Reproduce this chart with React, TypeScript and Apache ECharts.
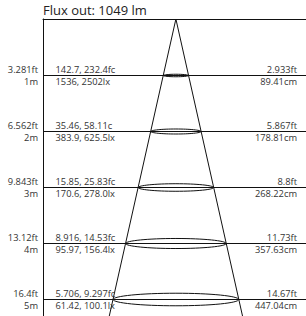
import React, { useEffect, useRef } from "react";
import * as echarts from "echarts";

const titleText = "Flux out: 1049 lm";
const depthsM = [1, 2, 3, 4, 5];
const depthFtLabels = ["3.281ft", "6.562ft", "9.843ft", "13.12ft", "16.4ft"];
const depthMLabels = ["1m", "2m", "3m", "4m", "5m"];
const fcLabels = ["142.7, 232.4fc", "35.46, 58.11c", "15.85, 25.83fc", "8.916, 14.53fc", "5.706, 9.297fc"];
const lxLabels = ["1536, 2502lx", "383.9, 625.5lx", "170.6, 278.0lx", "95.97, 156.4lx", "61.42, 100.1lx"];
const diameterFtLabels = ["2.933ft", "5.867ft", "8.8ft", "11.73ft", "14.67ft"];
const diameterCm = [89.41, 178.81, 268.22, 357.63, 447.04];
const diameterCmLabels = ["89.41cm", "178.81cm", "268.22cm", "357.63cm", "447.04cm"];

const FONT = "Open Sans";
const TEXT_COLOR = "#333";
const LINE_COLOR = "#111";

export default function App() {
  const ref = useRef<HTMLDivElement>(null);
  useEffect(() => {
    if (!ref.current) return;
    const chart = echarts.init(ref.current, undefined, { renderer: "svg" });
    const levelData = depthsM.map((d, i) => [d, diameterCm[i], i]);
    const lastIdx = depthsM.length - 1;
    chart.setOption({
      animation: false,
      title: {
        text: titleText,
        left: 43,
        top: 3,
        padding: 0,
        textStyle: { fontSize: 13, fontWeight: "normal", color: "#222", fontFamily: FONT },
      },
      grid: { left: 43, right: 0, top: 19, bottom: 0 },
      xAxis: {
        type: "value",
        min: -473,
        max: 463,
        position: "top",
        axisLine: { show: true, onZero: false, lineStyle: { color: LINE_COLOR, width: 1 } },
        axisTick: { show: false },
        axisLabel: { show: false },
        splitLine: { show: false },
      },
      yAxis: {
        type: "value",
        inverse: true,
        min: 0,
        max: 297 / 56,
        axisLine: { show: true, onZero: false, lineStyle: { color: LINE_COLOR, width: 1 } },
        axisTick: { show: false },
        axisLabel: { show: false },
        splitLine: { show: false },
      },
      series: [
        {
          type: "custom",
          coordinateSystem: "cartesian2d",
          data: levelData,
          silent: true,
          renderItem: (params: any, api: any) => {
            const d = api.value(0);
            const c = api.coord([0, d]);
            const cs = params.coordSys;
            const y = Math.round(c[1]) + 0.5;
            return {
              type: "line",
              shape: { x1: cs.x, y1: y, x2: cs.x + cs.width, y2: y },
              style: { stroke: LINE_COLOR, lineWidth: 1 },
            };
          },
        },
        {
          type: "custom",
          coordinateSystem: "cartesian2d",
          data: [[depthsM[lastIdx], diameterCm[lastIdx]]],
          silent: true,
          renderItem: (params: any, api: any) => {
            const d = api.value(0);
            const diam = api.value(1);
            const apex = api.coord([0, 0]);
            const edge = api.coord([diam / 2, d]);
            const cs = params.coordSys;
            const bottom = cs.y + cs.height;
            const t = (bottom - apex[1]) / (edge[1] - apex[1]);
            const dx = (edge[0] - apex[0]) * t;
            return {
              type: "polyline",
              shape: {
                points: [
                  [apex[0] - dx, bottom],
                  [apex[0], apex[1]],
                  [apex[0] + dx, bottom],
                ],
              },
              style: { stroke: LINE_COLOR, lineWidth: 1, fill: "none" },
            };
          },
        },
        {
          type: "custom",
          coordinateSystem: "cartesian2d",
          data: levelData,
          silent: true,
          renderItem: (params: any, api: any) => {
            const d = api.value(0);
            const diam = api.value(1);
            const i = api.value(2);
            const c = api.coord([0, d]);
            const cs = params.coordSys;
            const y = Math.round(c[1]) + 0.5;
            const rx = api.size([diam / 2, 0])[0];
            const ts = (text: string, x: number, yy: number, align: string) => ({
              type: "text",
              style: {
                text,
                x,
                y: yy,
                align,
                verticalAlign: "middle",
                fill: TEXT_COLOR,
                font: `9.3px "${FONT}"`,
              },
            });
            return {
              type: "group",
              children: [
                {
                  type: "ellipse",
                  shape: { cx: c[0], cy: y, rx, ry: rx * 0.1 },
                  style: { stroke: LINE_COLOR, lineWidth: 1, fill: "none" },
                },
                ts(depthFtLabels[i], cs.x - 5, y - 6, "right"),
                ts(depthMLabels[i], cs.x - 5, y + 5.5, "right"),
                ts(fcLabels[i], cs.x + 12.5, y - 6, "left"),
                ts(lxLabels[i], cs.x + 12.5, y + 5.5, "left"),
                ts(diameterFtLabels[i], 297, y - 6, "right"),
                ts(diameterCmLabels[i], 297, y + 5.5, "right"),
              ],
            };
          },
        },
      ],
    });
    return () => chart.dispose();
  }, []);
  return (
    <div
      ref={ref}
      style={{ position: "absolute", left: 0, top: 0, width: 306, height: 316, background: "#fff" }}
    />
  );
}
